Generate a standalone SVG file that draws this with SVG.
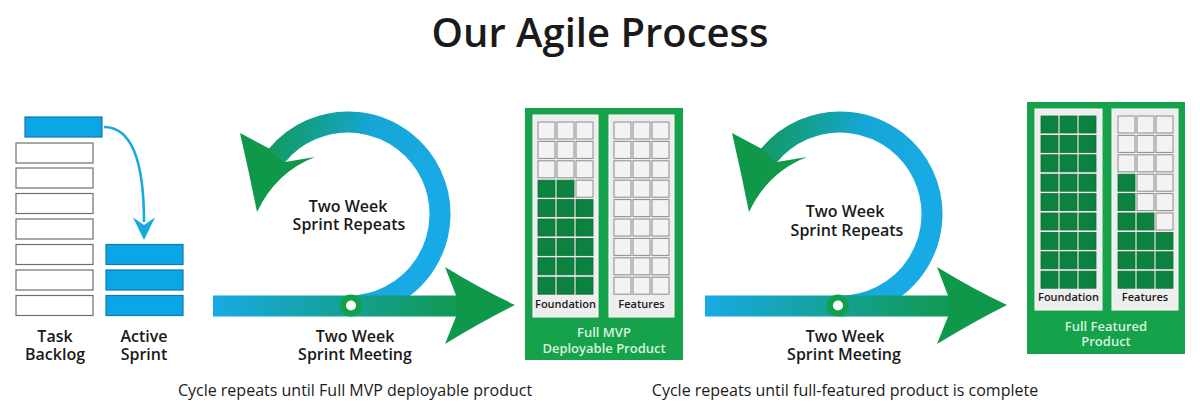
<svg xmlns="http://www.w3.org/2000/svg" width="1200" height="414" viewBox="0 0 1200 414">
  <style>
    .t{font-family:"Open Sans","Liberation Sans",sans-serif;fill:#1a1a1a;text-anchor:middle}
    .lbl{font-size:16px;font-weight:600}
    .cap{font-size:16px;font-weight:400}
    .bk{fill:#ffffff;stroke:#6f6f6f;stroke-width:1.2}
    .bl{fill:#0ba6e6;stroke:#0f78ad;stroke-width:1.2}
    .box{fill:#16a24b}
    .pan{fill:#eeeeee;stroke:#ffffff;stroke-width:1}
    .e{fill:#f3f3f3;stroke:#8c8c8c;stroke-width:1}
    .f{fill:#0c8240;stroke:#0a6f36;stroke-width:0.8}
    .pt{font-family:"Open Sans","Liberation Sans",sans-serif;font-size:11px;font-weight:600;fill:#1a1a1a;text-anchor:middle}
    .bt{font-family:"Open Sans","Liberation Sans",sans-serif;font-size:13px;font-weight:600;fill:#d8f3df;text-anchor:middle}
    .ah{fill:#10984a}
  </style>
  <defs>
    <linearGradient id="barG" gradientUnits="userSpaceOnUse" x1="213" y1="0" x2="470" y2="0">
      <stop offset="0" stop-color="#18aae4"/>
      <stop offset="1" stop-color="#10984a"/>
    </linearGradient>
    <linearGradient id="loopG" gradientUnits="userSpaceOnUse" x1="430" y1="200" x2="250" y2="150">
      <stop offset="0" stop-color="#18aae4"/>
      <stop offset="0.4" stop-color="#16a6d6"/>
      <stop offset="1" stop-color="#10984a"/>
    </linearGradient>
    <g id="cycle">
      <path d="M348,306 A92,92 0 1 0 277,155.5" fill="none" stroke="url(#loopG)" stroke-width="21"/>
      <path class="ah" d="M270,149 L240,133 Q249,172 257,212 Q276,172 315,157 L285,162 Z"/>
      <rect x="213" y="295.5" width="245" height="21" fill="url(#barG)"/>
      <path class="ah" d="M456,295.5 L445,267 Q481,289 515,305 Q481,322 445,344 L456,316.5 Z"/>
    </g>
  </defs>

  <text class="t" x="600" y="47" font-size="40" font-weight="600">Our Agile Process</text>

  <g id="task-backlog">
    <rect class="bl" x="25" y="117" width="77" height="20"/>
    <rect class="bk" x="16" y="143" width="77" height="20"/>
    <rect class="bk" x="16" y="168" width="77" height="20"/>
    <rect class="bk" x="16" y="193.5" width="77" height="20"/>
    <rect class="bk" x="16" y="219" width="77" height="20"/>
    <rect class="bk" x="16" y="244.5" width="77" height="20"/>
    <rect class="bk" x="16" y="270" width="77" height="20"/>
    <rect class="bk" x="16" y="295.5" width="77" height="20"/>
    <text class="t lbl" x="55" y="342">Task</text>
    <text class="t lbl" x="55" y="360">Backlog</text>
  </g>

  <g id="active-sprint">
    <rect class="bl" x="106" y="244.5" width="77" height="20"/>
    <rect class="bl" x="106" y="270" width="77" height="20"/>
    <rect class="bl" x="106" y="295.5" width="77" height="20"/>
    <text class="t lbl" x="144" y="342">Active</text>
    <text class="t lbl" x="144" y="360">Sprint</text>
  </g>

  <g id="connectors">
    <path d="M104,127 C126,127 144,148 144,222" fill="none" stroke="#16a8e2" stroke-width="2.6"/>
    <path d="M133,217.5 L144,225 L155,217.5 L144,240 Z" fill="#16a8e2"/>
  </g>

  <g id="sprint-cycle-1">
    <use href="#cycle"/>
    <circle cx="351" cy="305.5" r="8" fill="#ffffff" stroke="#12a04a" stroke-width="6"/>
    <text class="t lbl" x="348" y="212">Two Week</text>
    <text class="t lbl" x="349" y="230">Sprint Repeats</text>
    <text class="t lbl" x="355" y="342">Two Week</text>
    <text class="t lbl" x="355" y="360">Sprint Meeting</text>
  </g>

  <g id="mvp-product">
    <rect class="box" x="525" y="108" width="158" height="252"/>
    <rect class="pan" x="533" y="115" width="65" height="202"/>
    <rect class="pan" x="609" y="115" width="65" height="202"/>
    <g id="mvp-foundation">
      <rect class="e" x="538" y="122" width="17" height="17"/><rect class="e" x="557" y="122" width="17" height="17"/><rect class="e" x="576" y="122" width="17" height="17"/>
      <rect class="e" x="538" y="141.4" width="17" height="17"/><rect class="e" x="557" y="141.4" width="17" height="17"/><rect class="e" x="576" y="141.4" width="17" height="17"/>
      <rect class="e" x="538" y="160.8" width="17" height="17"/><rect class="e" x="557" y="160.8" width="17" height="17"/><rect class="e" x="576" y="160.8" width="17" height="17"/>
      <rect class="f" x="538" y="180.2" width="17" height="17"/><rect class="f" x="557" y="180.2" width="17" height="17"/><rect class="e" x="576" y="180.2" width="17" height="17"/>
      <rect class="f" x="538" y="199.6" width="17" height="17"/><rect class="f" x="557" y="199.6" width="17" height="17"/><rect class="f" x="576" y="199.6" width="17" height="17"/>
      <rect class="f" x="538" y="219" width="17" height="17"/><rect class="f" x="557" y="219" width="17" height="17"/><rect class="f" x="576" y="219" width="17" height="17"/>
      <rect class="f" x="538" y="238.4" width="17" height="17"/><rect class="f" x="557" y="238.4" width="17" height="17"/><rect class="f" x="576" y="238.4" width="17" height="17"/>
      <rect class="f" x="538" y="257.8" width="17" height="17"/><rect class="f" x="557" y="257.8" width="17" height="17"/><rect class="f" x="576" y="257.8" width="17" height="17"/>
      <rect class="f" x="538" y="277.2" width="17" height="17"/><rect class="f" x="557" y="277.2" width="17" height="17"/><rect class="f" x="576" y="277.2" width="17" height="17"/>
    </g>
    <g id="mvp-features">
      <rect class="e" x="614" y="122" width="17" height="17"/><rect class="e" x="633" y="122" width="17" height="17"/><rect class="e" x="652" y="122" width="17" height="17"/>
      <rect class="e" x="614" y="141.4" width="17" height="17"/><rect class="e" x="633" y="141.4" width="17" height="17"/><rect class="e" x="652" y="141.4" width="17" height="17"/>
      <rect class="e" x="614" y="160.8" width="17" height="17"/><rect class="e" x="633" y="160.8" width="17" height="17"/><rect class="e" x="652" y="160.8" width="17" height="17"/>
      <rect class="e" x="614" y="180.2" width="17" height="17"/><rect class="e" x="633" y="180.2" width="17" height="17"/><rect class="e" x="652" y="180.2" width="17" height="17"/>
      <rect class="e" x="614" y="199.6" width="17" height="17"/><rect class="e" x="633" y="199.6" width="17" height="17"/><rect class="e" x="652" y="199.6" width="17" height="17"/>
      <rect class="e" x="614" y="219" width="17" height="17"/><rect class="e" x="633" y="219" width="17" height="17"/><rect class="e" x="652" y="219" width="17" height="17"/>
      <rect class="e" x="614" y="238.4" width="17" height="17"/><rect class="e" x="633" y="238.4" width="17" height="17"/><rect class="e" x="652" y="238.4" width="17" height="17"/>
      <rect class="e" x="614" y="257.8" width="17" height="17"/><rect class="e" x="633" y="257.8" width="17" height="17"/><rect class="e" x="652" y="257.8" width="17" height="17"/>
      <rect class="e" x="614" y="277.2" width="17" height="17"/><rect class="e" x="633" y="277.2" width="17" height="17"/><rect class="e" x="652" y="277.2" width="17" height="17"/>
    </g>
    <text class="pt" x="565.5" y="308">Foundation</text>
    <text class="pt" x="641.5" y="308">Features</text>
    <text class="bt" x="604" y="337">Full MVP</text>
    <text class="bt" x="604" y="353">Deployable Product</text>
  </g>

  <g id="sprint-cycle-2">
    <use href="#cycle" transform="translate(492,0)"/>
    <circle cx="838" cy="305.5" r="8" fill="#ffffff" stroke="#12a04a" stroke-width="6"/>
    <text class="t lbl" x="845" y="217">Two Week</text>
    <text class="t lbl" x="847" y="236">Sprint Repeats</text>
    <text class="t lbl" x="845" y="342">Two Week</text>
    <text class="t lbl" x="844" y="360">Sprint Meeting</text>
  </g>

  <g id="full-product">
    <rect class="box" x="1027" y="102" width="158" height="252"/>
    <rect class="pan" x="1035" y="109" width="67" height="201"/>
    <rect class="pan" x="1112" y="109" width="66" height="201"/>
    <g id="full-foundation">
      <rect class="f" x="1041" y="116" width="17" height="17"/><rect class="f" x="1060" y="116" width="17" height="17"/><rect class="f" x="1079" y="116" width="17" height="17"/>
      <rect class="f" x="1041" y="135.4" width="17" height="17"/><rect class="f" x="1060" y="135.4" width="17" height="17"/><rect class="f" x="1079" y="135.4" width="17" height="17"/>
      <rect class="f" x="1041" y="154.8" width="17" height="17"/><rect class="f" x="1060" y="154.8" width="17" height="17"/><rect class="f" x="1079" y="154.8" width="17" height="17"/>
      <rect class="f" x="1041" y="174.2" width="17" height="17"/><rect class="f" x="1060" y="174.2" width="17" height="17"/><rect class="f" x="1079" y="174.2" width="17" height="17"/>
      <rect class="f" x="1041" y="193.6" width="17" height="17"/><rect class="f" x="1060" y="193.6" width="17" height="17"/><rect class="f" x="1079" y="193.6" width="17" height="17"/>
      <rect class="f" x="1041" y="213" width="17" height="17"/><rect class="f" x="1060" y="213" width="17" height="17"/><rect class="f" x="1079" y="213" width="17" height="17"/>
      <rect class="f" x="1041" y="232.4" width="17" height="17"/><rect class="f" x="1060" y="232.4" width="17" height="17"/><rect class="f" x="1079" y="232.4" width="17" height="17"/>
      <rect class="f" x="1041" y="251.8" width="17" height="17"/><rect class="f" x="1060" y="251.8" width="17" height="17"/><rect class="f" x="1079" y="251.8" width="17" height="17"/>
      <rect class="f" x="1041" y="271.2" width="17" height="17"/><rect class="f" x="1060" y="271.2" width="17" height="17"/><rect class="f" x="1079" y="271.2" width="17" height="17"/>
    </g>
    <g id="full-features">
      <rect class="e" x="1118" y="116" width="17" height="17"/><rect class="e" x="1137" y="116" width="17" height="17"/><rect class="e" x="1156" y="116" width="17" height="17"/>
      <rect class="e" x="1118" y="135.4" width="17" height="17"/><rect class="e" x="1137" y="135.4" width="17" height="17"/><rect class="e" x="1156" y="135.4" width="17" height="17"/>
      <rect class="e" x="1118" y="154.8" width="17" height="17"/><rect class="e" x="1137" y="154.8" width="17" height="17"/><rect class="e" x="1156" y="154.8" width="17" height="17"/>
      <rect class="f" x="1118" y="174.2" width="17" height="17"/><rect class="e" x="1137" y="174.2" width="17" height="17"/><rect class="e" x="1156" y="174.2" width="17" height="17"/>
      <rect class="f" x="1118" y="193.6" width="17" height="17"/><rect class="e" x="1137" y="193.6" width="17" height="17"/><rect class="e" x="1156" y="193.6" width="17" height="17"/>
      <rect class="f" x="1118" y="213" width="17" height="17"/><rect class="f" x="1137" y="213" width="17" height="17"/><rect class="e" x="1156" y="213" width="17" height="17"/>
      <rect class="f" x="1118" y="232.4" width="17" height="17"/><rect class="f" x="1137" y="232.4" width="17" height="17"/><rect class="f" x="1156" y="232.4" width="17" height="17"/>
      <rect class="f" x="1118" y="251.8" width="17" height="17"/><rect class="f" x="1137" y="251.8" width="17" height="17"/><rect class="f" x="1156" y="251.8" width="17" height="17"/>
      <rect class="f" x="1118" y="271.2" width="17" height="17"/><rect class="f" x="1137" y="271.2" width="17" height="17"/><rect class="f" x="1156" y="271.2" width="17" height="17"/>
    </g>
    <text class="pt" x="1068.5" y="301">Foundation</text>
    <text class="pt" x="1145" y="301">Features</text>
    <text class="bt" x="1106" y="331">Full Featured</text>
    <text class="bt" x="1106" y="346">Product</text>
  </g>

  <text class="t cap" x="355" y="396">Cycle repeats until Full MVP deployable product</text>
  <text class="t cap" x="845" y="396">Cycle repeats until full-featured product is complete</text>
</svg>
